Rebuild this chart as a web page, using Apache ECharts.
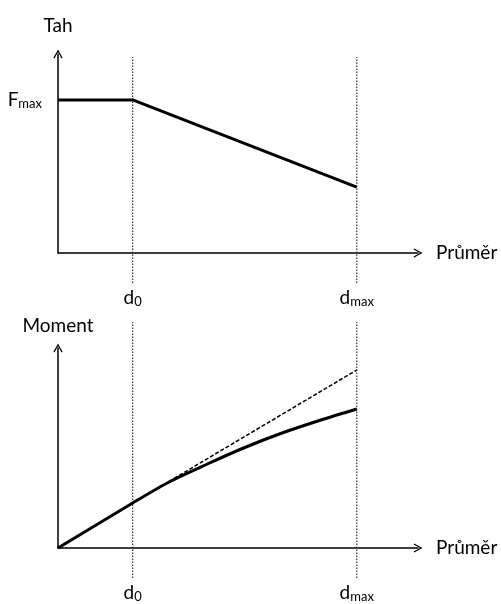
<!DOCTYPE html>
<html>
<head>
<meta charset="utf-8">
<script src="https://cdn.jsdelivr.net/npm/echarts@6.0.0/dist/echarts.min.js"></script>
<style>
  html, body { margin: 0; padding: 0; background: #fff; }
  #main { width: 501px; height: 604px; }
</style>
</head>
<body>
<div id="main"></div>
<script>
// diameter axis: d0 = 1, dmax = 4
const xTicks = [1, 4];
const xTickLabels = ['d{s|0}', 'd{s|max}'];
const xMax = 4.82;

// top chart: Tah (pull force), Fmax = 1
const tahX = [0, 1, 4];
const tahY = [1, 1, 0.43];
const tahMax = 1.3;

// bottom chart: Moment
const momentX = [0, 1, 1.5, 2, 2.5, 3, 3.5, 4];
const momentY = [0, 45, 66.5, 84, 100.5, 115, 127.5, 139];
const tangentX = [1, 4];
const tangentY = [45, 178];
const momentMax = 200;

const font = 'Lato';
const arrow = 'path://M0,9 L5,0 L10,9 L8.8,9.8 L5,2.6 L1.2,9.8 Z';

const zip = (xs, ys) => xs.map((x, i) => [x, ys[i]]);

function mainX(gridIndex) {
    return {
        type: 'value', gridIndex: gridIndex, min: 0, max: xMax,
        name: 'Průměr', nameLocation: 'end', nameGap: 18,
        nameTextStyle: { fontFamily: font, fontSize: 19, color: '#000', verticalAlign: 'middle' },
        axisLine: { show: true, symbol: ['none', arrow], symbolSize: [13, 9],
            lineStyle: { color: '#000', width: 1.5 } },
        axisTick: { show: false },
        splitLine: { show: false },
        axisLabel: {
            customValues: xTicks, margin: 34, color: '#000',
            fontFamily: font, fontSize: 19,
            formatter: v => xTickLabels[xTicks.indexOf(v)],
            rich: { s: { fontFamily: font, fontSize: 13, padding: [8, 0, 0, 0], color: '#000' } }
        }
    };
}

function mainY(gridIndex, name, max, gap, labels) {
    return {
        type: 'value', gridIndex: gridIndex, min: 0, max: max,
        name: name, nameLocation: 'end', nameGap: gap,
        nameTextStyle: { fontFamily: font, fontSize: 19, color: '#000', align: 'center' },
        axisLine: { show: true, symbol: ['none', arrow], symbolSize: [13, 9],
            lineStyle: { color: '#000', width: 1.5 } },
        axisTick: { show: false },
        splitLine: { show: false },
        axisLabel: labels
    };
}

const hidden = (gridIndex, max) => ({ type: 'value', gridIndex: gridIndex, min: 0, max: max, show: false });

const guideX = xTicks.flatMap(d => [[d, 0], [d, 1], null]);

const option = {
    animation: false,
    backgroundColor: '#fff',
    grid: [
        { left: 58, top: 54, width: 360, height: 199 },
        { left: 58, top: 348, width: 360, height: 200 },
        { left: 58, top: 57, width: 360, height: 226 },
        { left: 58, top: 322, width: 360, height: 256 }
    ],
    xAxis: [mainX(0), mainX(1), hidden(2, xMax), hidden(3, xMax)],
    yAxis: [
        mainY(0, 'Tah', tahMax, 19, {
            customValues: [1], margin: 16, color: '#000', fontFamily: font, fontSize: 19,
            formatter: () => 'F{s|max}',
            rich: { s: { fontFamily: font, fontSize: 13, padding: [8, 0, 0, 0], color: '#000' } }
        }),
        mainY(1, 'Moment', momentMax, 13, { show: false }),
        hidden(2, 1),
        hidden(3, 1)
    ],
    series: [
        {
            type: 'line', xAxisIndex: 2, yAxisIndex: 2, data: guideX, symbol: 'none',
            connectNulls: false, silent: true,
            lineStyle: { color: '#333', width: 1.2, type: [1.5, 1.5] }
        },
        {
            type: 'line', xAxisIndex: 3, yAxisIndex: 3, data: guideX, symbol: 'none',
            connectNulls: false, silent: true,
            lineStyle: { color: '#333', width: 1.2, type: [1.5, 1.5] }
        },
        {
            type: 'line', xAxisIndex: 0, yAxisIndex: 0, data: zip(tahX, tahY), symbol: 'none',
            lineStyle: { color: '#000', width: 3 }
        },
        {
            type: 'line', xAxisIndex: 1, yAxisIndex: 1, data: zip(tangentX, tangentY), symbol: 'none',
            lineStyle: { color: '#000', width: 1.5, type: [4, 2] }
        },
        {
            type: 'line', xAxisIndex: 1, yAxisIndex: 1, data: zip(momentX, momentY), symbol: 'none',
            smooth: 0.3,
            lineStyle: { color: '#000', width: 3 }
        }
    ]
};

const myChart = echarts.init(document.getElementById('main'));
myChart.setOption(option);
</script>
</body>
</html>
